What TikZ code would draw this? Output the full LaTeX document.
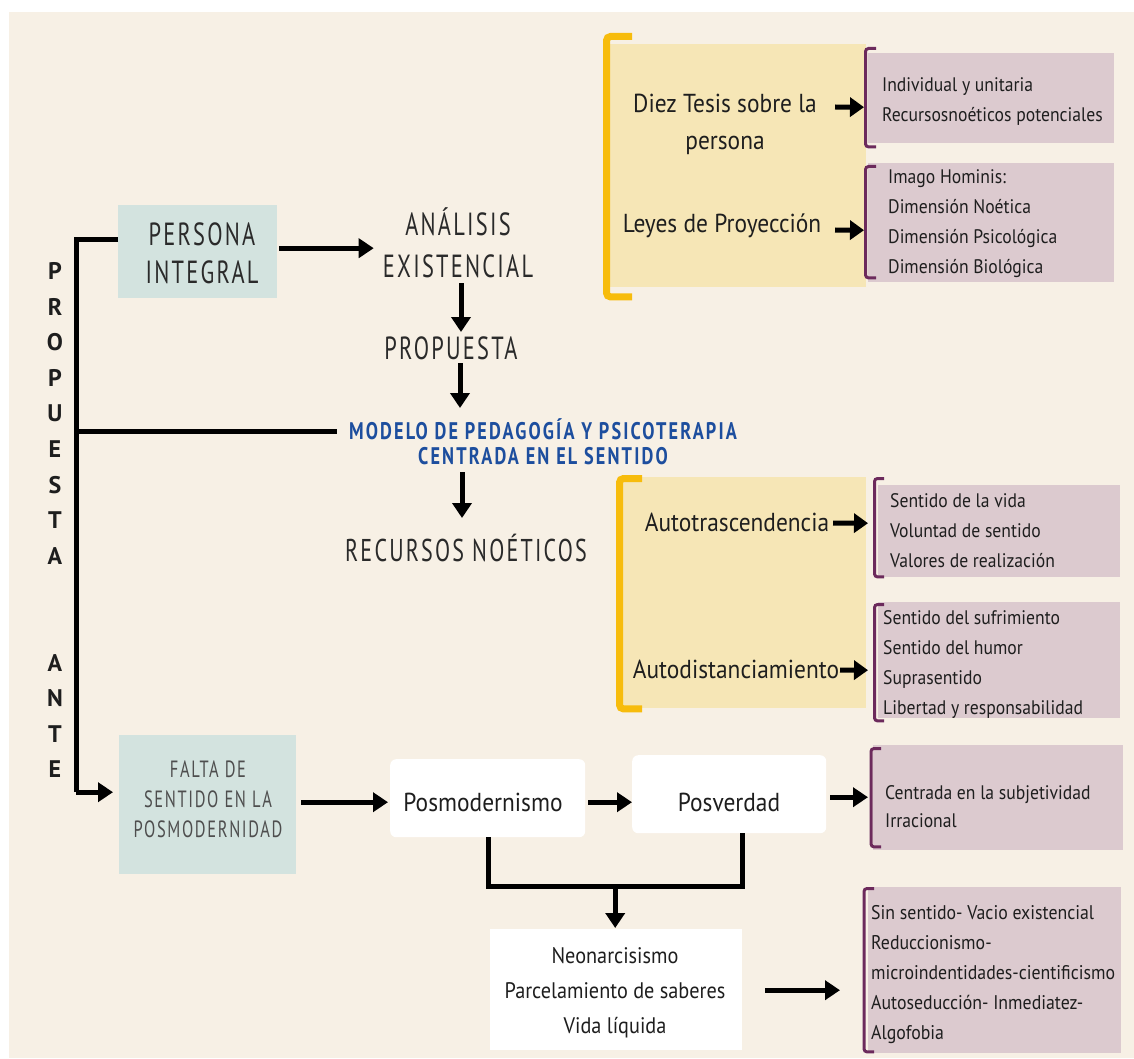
\documentclass[tikz,border=0pt]{standalone}
\usepackage{fontspec}
\setmainfont{PT Sans}
\newfontfamily\narf[FakeStretch=0.9]{PT Sans}
\newfontfamily\thinf[FakeStretch=0.7,LetterSpace=7]{PT Sans}
\newfontfamily\bluef[FakeStretch=0.76,LetterSpace=9]{PT Sans}
\newfontfamily\boldf{PT Sans}
\usetikzlibrary{arrows.meta,calc}
\definecolor{cCream}{HTML}{F7F0E5}
\definecolor{cTeal}{HTML}{D3E3DF}
\definecolor{cYel}{HTML}{F6E6B6}
\definecolor{cGold}{HTML}{F7BC0C}
\definecolor{cPur}{HTML}{DCCACF}
\definecolor{cPurD}{HTML}{6C2A5C}
\definecolor{cBlue}{HTML}{1D4E9E}
\definecolor{cTxt}{HTML}{1E1E1E}
\definecolor{cTtl}{HTML}{2A2A2A}
\definecolor{cGray}{HTML}{4E4E4E}
\tikzset{
  conn/.style={line width=5pt, draw=black},
  arr/.style={conn, -{Triangle[length=15pt,width=19pt]}},
  sarr/.style={line width=5pt, draw=black, -{Triangle[length=14pt,width=19pt]}},
  tealbox/.style={fill=cTeal, inner sep=0pt},
  whitebox/.style={fill=white, rounded corners=6pt, inner sep=0pt},
  ypanel/.style={fill=cYel, inner sep=0pt},
  ybr/.style={draw=cGold, line width=7pt, rounded corners=4pt},
  pbox/.style={fill=cPur, inner sep=0pt},
  pbr/.style={draw=cPurD, line width=3pt, rounded corners=3pt},
  ttl/.style={font=\thinf\fontsize{32}{41.5}\selectfont, text=cTtl, align=center, inner sep=0pt},
  big/.style={font=\narf\fontsize{26}{37}\selectfont, text=cTxt, align=center, inner sep=0pt},
  lst/.style={font=\narf\fontsize{19.6}{30}\selectfont, text=cTxt, align=left, inner sep=0pt, anchor=west},
  bluet/.style={font=\bluef\bfseries\fontsize{24}{25}\selectfont, text=cBlue, align=center, inner sep=0pt},
  vletters/.style={font=\boldf\bfseries\fontsize{24}{35.6}\selectfont, text=cTxt, align=center, inner sep=0pt},
}
\begin{document}
\begin{tikzpicture}[x=1pt,y=-1pt]
\useasboundingbox (0,0) rectangle (1134,1059);
\fill[white] (0,0) rectangle (1134,1059);
\fill[cCream] (9,12) rectangle (1134,1058);

% ---------- yellow panels ----------
\node[ypanel, anchor=north west, minimum width=260, minimum height=243] (yp1) at (606,44) {};
\draw[ybr] ($(yp1.north west)+(26,-7.5)$) -- ($(yp1.north west)+(0.5,-7.5)$) -- ($(yp1.south west)+(0.5,9.5)$) -- ($(yp1.south west)+(26,9.5)$);
\node[ypanel, anchor=north west, minimum width=248, minimum height=231] (yp2) at (618,477) {};
\draw[ybr] ($(yp2.north west)+(24,1.5)$) -- ($(yp2.north west)+(1.5,1.5)$) -- ($(yp2.south west)+(1.5,0.5)$) -- ($(yp2.south west)+(24,0.5)$);

% ---------- purple boxes ----------
\node[pbox, anchor=north west, minimum width=246, minimum height=90] (pb1) at (868,53) {};
\draw[pbr] ($(pb1.north west)+(8,-4.5)$) -- ($(pb1.north west)+(-2.5,-4.5)$) -- ($(pb1.south west)+(-2.5,3.5)$) -- ($(pb1.south west)+(8,3.5)$);
\node[pbox, anchor=north west, minimum width=246, minimum height=119] (pb2) at (868,163) {};
\draw[pbr] ($(pb2.north west)+(8,3.5)$) -- ($(pb2.north west)+(-2.5,3.5)$) -- ($(pb2.south west)+(-2.5,-4.5)$) -- ($(pb2.south west)+(8,-4.5)$);
\node[pbox, anchor=north west, minimum width=242, minimum height=92] (pb3) at (878,485) {};
\draw[pbr] ($(pb3.north west)+(6,-6.5)$) -- ($(pb3.north west)+(-3.5,-6.5)$) -- ($(pb3.south west)+(-3.5,-0.5)$) -- ($(pb3.south west)+(6,-0.5)$);
\node[pbox, anchor=north west, minimum width=242, minimum height=116] (pb4) at (878,602) {};
\draw[pbr] ($(pb4.north west)+(6,2.5)$) -- ($(pb4.north west)+(-3.5,2.5)$) -- ($(pb4.south west)+(-3.5,2.5)$) -- ($(pb4.south west)+(6,2.5)$);
\node[pbox, anchor=north west, minimum width=250, minimum height=105] (pb5) at (873,745) {};
\draw[pbr] ($(pb5.north west)+(8,3.5)$) -- ($(pb5.north west)+(-2,3.5)$) -- ($(pb5.south west)+(-2,-3.5)$) -- ($(pb5.south west)+(8,-3.5)$);
\node[pbox, anchor=north west, minimum width=253, minimum height=166] (pb6) at (868,887) {};
\draw[pbr] ($(pb6.north west)+(6,1.5)$) -- ($(pb6.north west)+(-4,1.5)$) -- ($(pb6.south west)+(-4,-1.5)$) -- ($(pb6.south west)+(6,-1.5)$);

% ---------- texts in yellow panels ----------
\node[big] (dt) at (725,124) {Diez Tesis sobre la\\persona};
\node[big] (ly) at (722,226) {Leyes de Proyecci\'on};
\node[big] (at) at (737,522.5) {Autotrascendencia};
\node[big] (ad) at (736,669) {Autodistanciamiento};

% ---------- lists ----------
\node[lst] (l1) at (882,102) {Individual y unitaria\\Recursosno\'eticos potenciales};
\node[lst] (l2) at (888,224) {Imago Hominis:\\Dimensi\'on No\'etica\\Dimensi\'on Psicol\'ogica\\Dimensi\'on Biol\'ogica};
\node[lst] (l3) at (890,531) {Sentido de la vida\\Voluntad de sentido\\Valores de realizaci\'on};
\node[lst] (l4) at (883,665) {Sentido del sufrimiento\\Sentido del humor\\Suprasentido\\Libertad y responsabilidad};
\node[lst, font=\narf\fontsize{19.6}{28}\selectfont] (l5) at (885,807) {Centrada en la subjetividad\\Irracional};
\node[lst, font=\narf\fontsize{19.8}{30}\selectfont] (l6) at (871,975) {Sin sentido- Vacio existencial\\Reduccionismo-\\microindentidades-cientificismo\\Autoseducci\'on- Inmediatez-\\Algofobia};

% ---------- left column ----------
\node[tealbox, anchor=north west, minimum width=159, minimum height=93] (pi) at (118,205) {};
\node[ttl, font=\thinf\fontsize{32}{37.7}\selectfont] (pit) at (202,253) {PERSONA\\INTEGRAL};
\node[ttl] (an) at (458,243) {AN\'ALISIS\\EXISTENCIAL};
\node[ttl, font=\thinf\fontsize{32}{30}\selectfont] (pr) at (451,348) {PROPUESTA};
\node[bluet] (mo) at (543,441.5) {MODELO DE PEDAGOG\'IA Y PSICOTERAPIA\\CENTRADA EN EL SENTIDO};
\node[ttl, font=\thinf\fontsize{31.5}{30}\selectfont] (rn) at (466,548) {RECURSOS NO\'ETICOS};

\node[vletters] (vt) at (55,520.2) {P\\R\\O\\P\\U\\E\\S\\T\\A\\~\\~\\A\\N\\T\\E};

\node[tealbox, anchor=north west, minimum width=177, minimum height=139] (fa) at (119,735) {};
\node[ttl, font=\thinf\fontsize{23.5}{30}\selectfont, text=cGray] (fat) at (208,799) {FALTA DE\\SENTIDO EN LA\\POSMODERNIDAD};

% ---------- bottom row ----------
\node[whitebox, anchor=north west, minimum width=195, minimum height=78] (pm) at (390,759) {};
\node[big] (pmt) at (483,802) {Posmodernismo};
\node[whitebox, anchor=north west, minimum width=194, minimum height=78] (pv) at (632,755) {};
\node[big] (pvt) at (729,802) {Posverdad};
\node[fill=white, inner sep=0pt, anchor=north west, minimum width=252, minimum height=121] (neo) at (490,929) {};
\node[big, font=\narf\fontsize{22.5}{35}\selectfont] (neot) at (615,992.5) {Neonarcisismo\\Parcelamiento de saberes\\Vida l\'iquida};

\coordinate (busj) at (76,431);

% ---------- connectors ----------
\draw[arr] ($(pi.east)+(2,-3.5)$) -- ($(an.west |- pi.east)+(-9,-3.5)$);
\draw[arr] ($(an.center)+(3,40)$) -- ($(pr.center)+(10,-16)$);
\draw[arr] ($(pr.center)+(9,15)$) -- ($(mo.center)+(-83,-33.5)$);
\draw[arr] ($(mo.center)+(-81,30.5)$) -- ($(rn.center)+(-4,-30)$);
\draw[conn] ($(pi.west)+(0,-12.5)$) -| ($(fa.west)+(-43,-12.5)$);
\draw[arr] ($(fa.west)+(-43,-12.5)$) -- ($(fa.west)+(-6,-12.5)$);
\draw[conn] (busj) -- ($(mo.center)+(-206,-10.5)$);
\draw[arr] ($(fa.east)+(5,-2.5)$) -- ($(pm.west)+(-2,4)$);
\draw[arr] ($(pm.east)+(3,4)$) -- ($(pv.west)+(0,8)$);
\draw[arr] ($(pv.east)+(4,3)$) -- ($(pb5.west)+(-5,-0.5)$);
\draw[conn] ($(pm.south)+(0.5,0)$) |- ($(pv.south)+(13,53)$) -- ($(pv.south)+(13,0)$);
\draw[arr] ($(neo.north)+(-1,-43)$) -- ($(neo.north)+(-1,-1)$);
\draw[arr] ($(neo.east)+(23,0.5)$) -- ($(pb6.west)+(-28,20)$);

\draw[sarr] ($(dt.center)+(110,-17)$) -- ($(pb1.west)+(-4,9)$);
\draw[sarr] ($(ly.center)+(113,4)$) -- ($(pb2.west)+(-4,7.5)$);
\draw[sarr] ($(at.center)+(96,0.5)$) -- ($(pb3.west)+(-10,-8)$);
\draw[sarr] ($(ad.center)+(104,1)$) -- ($(pb4.west)+(-10,10)$);
\end{tikzpicture}
\end{document}
